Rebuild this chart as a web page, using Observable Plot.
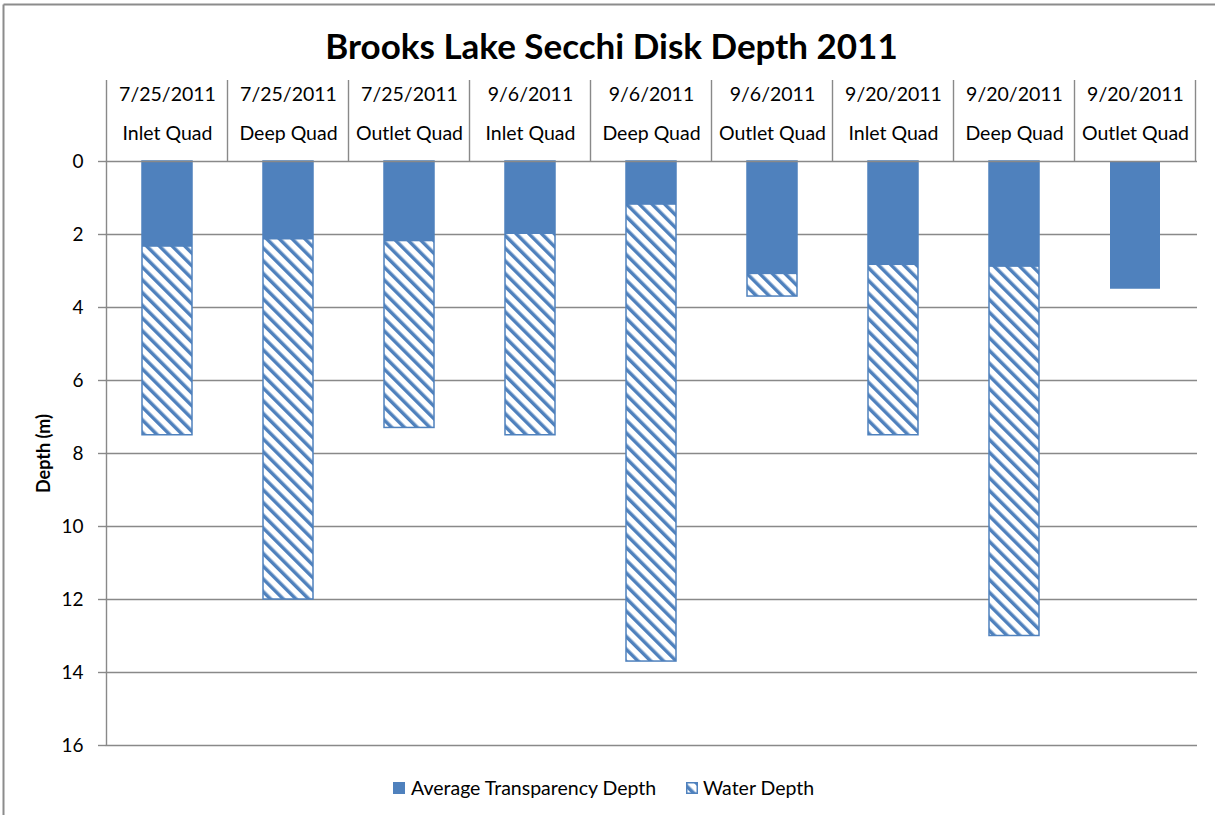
<!DOCTYPE html>
<html>
<head>
<meta charset="utf-8">
<script src="https://cdn.jsdelivr.net/npm/d3@7"></script>
<script src="https://cdn.jsdelivr.net/npm/@observablehq/plot@0.6"></script>
<style>
  html, body { margin: 0; padding: 0; background: #fff; overflow: hidden; }
  #chart { position: relative; width: 1215px; height: 815px; overflow: hidden; }
  #chart svg { display: block; max-width: none !important; }
</style>
</head>
<body>
<div id="chart"></div>
<script>
// Sampling visits: date and lake quadrant
const dates = ["7/25/2011", "7/25/2011", "7/25/2011", "9/6/2011", "9/6/2011", "9/6/2011", "9/20/2011", "9/20/2011", "9/20/2011"];
const sites = ["Inlet Quad", "Deep Quad", "Outlet Quad", "Inlet Quad", "Deep Quad", "Outlet Quad", "Inlet Quad", "Deep Quad", "Outlet Quad"];
// Average Secchi transparency depth (m)
const transparency = [2.35, 2.15, 2.2, 2.0, 1.2, 3.1, 2.85, 2.9, 3.5];
// Total water depth at the station (m); not recorded for the last visit
const waterDepth = [7.5, 12.0, 7.3, 7.5, 13.7, 3.7, 7.5, 13.0, null];
const yTicks = [0, 2, 4, 6, 8, 10, 12, 14, 16];

const title = "Brooks Lake Secchi Disk Depth 2011";
const seriesNames = ["Average Transparency Depth", "Water Depth"];

const rows = dates.map((d, i) => ({
  key: `${d} ${sites[i]}`,
  date: d,
  site: sites[i],
  transparency: transparency[i],
  water: waterDepth[i]
}));
const keys = rows.map(d => d.key);

const font = "Lato, 'Open Sans', 'Noto Sans', sans-serif";
const blue = "#4f81bd";
const gridGray = "#898989";

const plot = Plot.plot({
  width: 1215,
  height: 815,
  marginTop: 161,
  marginBottom: 70,
  marginLeft: 105,
  marginRight: 18,
  style: { fontFamily: font, fontSize: "18px", color: "#000", background: "#fff", overflow: "visible" },
  x: { domain: keys, paddingInner: 0.588, paddingOuter: 0.294, axis: null },
  y: { domain: [0, 16], reverse: true, axis: null },
  marks: [
    Plot.ruleY(yTicks.filter(t => t > 0), { stroke: gridGray, strokeWidth: 1.4 }),
    Plot.axisY({
      ticks: yTicks, tickSize: 7, tickPadding: 15, tickFormat: d => String(d),
      fontSize: 19, stroke: gridGray, strokeWidth: 1.4, fill: "#000", label: null
    }),
    // water depth column (hatched), then transparency column on top (solid)
    Plot.barY(rows.filter(d => d.water != null), {
      x: "key", y: "water", fill: "url(#hatch)", stroke: blue, strokeWidth: 1.5
    }),
    Plot.barY(rows, { x: "key", y: "transparency", fill: blue }),
    Plot.ruleY([0], { stroke: gridGray, strokeWidth: 1.4 }),
    // two-level category labels above the plot
    Plot.text(rows, { x: "key", text: "date", frameAnchor: "top", lineAnchor: "middle", dy: -67, fontSize: 19.5, fill: "#000" }),
    Plot.text(rows, { x: "key", text: "site", frameAnchor: "top", lineAnchor: "middle", dy: -28, fontSize: 19.5, fill: "#000" }),
    Plot.text([title], { frameAnchor: "top", lineAnchor: "middle", dx: -40, dy: -114, fontSize: 35, fontWeight: "bold", fill: "#000" }),
    Plot.text(["Depth (m)"], { frameAnchor: "left", textAnchor: "middle", lineAnchor: "middle", rotate: -90, dx: -61, fontSize: 18, fontWeight: "bold", fill: "#000" })
  ]
});

const svg = d3.select(plot);

// diagonal hatch used for the water depth series
const defs = svg.insert("defs", ":first-child");
const pat = defs.append("pattern")
  .attr("id", "hatch")
  .attr("patternUnits", "userSpaceOnUse")
  .attr("width", 9).attr("height", 9)
  .attr("patternTransform", "rotate(-45)");
pat.append("rect").attr("width", 9).attr("height", 9).attr("fill", "#fff");
pat.append("rect").attr("width", 3.5).attr("height", 9).attr("fill", blue);

// category dividers and left axis line, positioned from the x scale
const xs = plot.scale("x");
const ys = plot.scale("y");
const step = xs.step ?? (xs.bandwidth / (1 - 0.588));
const y0 = ys.apply(0);
const yMax = ys.apply(16);
const headerTop = 80;
const edges = keys.map(k => xs.apply(k) + xs.bandwidth / 2 - step / 2);
edges.push(xs.apply(keys[keys.length - 1]) + xs.bandwidth / 2 + step / 2);
const g = svg.append("g").attr("stroke", gridGray).attr("stroke-width", 1.4).attr("fill", "none");
edges.forEach((ex, i) => {
  g.append("line")
    .attr("x1", ex).attr("x2", ex)
    .attr("y1", headerTop).attr("y2", i === 0 ? yMax : y0);
});

// chart border (left and top edges)
svg.append("line").attr("x1", 3.5).attr("x2", 3.5).attr("y1", 4.5).attr("y2", 815)
  .attr("stroke", "#8c8c8c").attr("stroke-width", 2);
svg.append("line").attr("x1", 3.5).attr("x2", 1215).attr("y1", 4.5).attr("y2", 4.5)
  .attr("stroke", "#8c8c8c").attr("stroke-width", 2);

// legend
const lg = svg.append("g").attr("font-family", font).attr("font-size", 19.5).attr("fill", "#000")
  .attr("text-anchor", "start");
lg.append("rect").attr("x", 393).attr("y", 782).attr("width", 12).attr("height", 12).attr("fill", blue);
lg.append("text").attr("x", 411).attr("y", 788).attr("dy", "0.35em").text(seriesNames[0]);
lg.append("rect").attr("x", 686.75).attr("y", 782.75).attr("width", 10.5).attr("height", 10.5)
  .attr("fill", "url(#hatch)").attr("stroke", blue).attr("stroke-width", 1.5);
lg.append("text").attr("x", 703).attr("y", 788).attr("dy", "0.35em").text(seriesNames[1]);

document.getElementById("chart").appendChild(plot);
</script>
</body>
</html>
